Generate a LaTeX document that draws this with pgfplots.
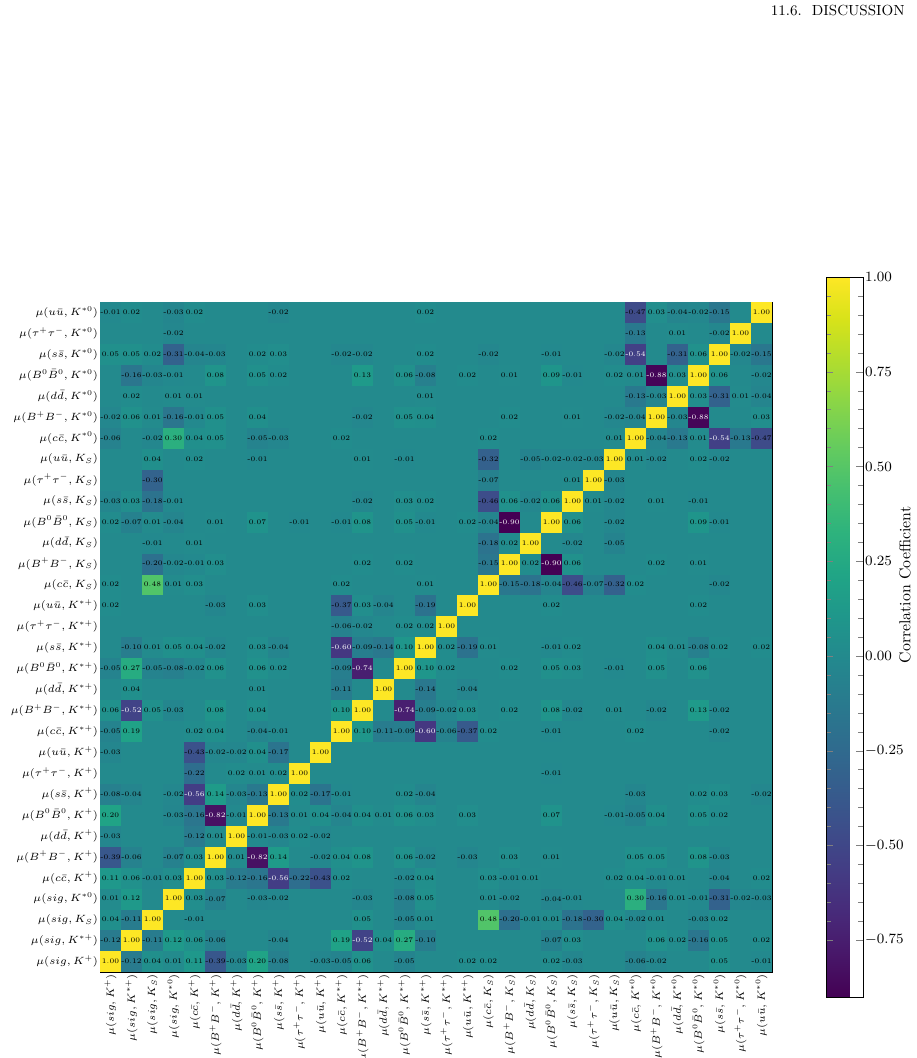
\RequirePackage{fix-cm}
\documentclass[border=0pt]{standalone}
\usepackage{pgfplots}
\usepackage{pgfplotstable}
\pgfplotsset{compat=1.18}
\usetikzlibrary{calc}

\pgfplotstableread{
r c0 c1 c2 c3 c4 c5 c6 c7 c8 c9 c10 c11 c12 c13 c14 c15 c16 c17 c18 c19 c20 c21 c22 c23 c24 c25 c26 c27 c28 c29 c30 c31
0 1.00 -0.12 0.04 0.01 0.11 -0.39 -0.03 0.20 -0.08 0 -0.03 -0.05 0.06 0 -0.05 0 0 0.02 0.02 0 0 0.02 -0.03 0 0 -0.06 -0.02 0 0 0.05 0 -0.01
1 -0.12 1.00 -0.11 0.12 0.06 -0.06 0 0 -0.04 0 0 0.19 -0.52 0.04 0.27 -0.10 0 0 0 0 0 -0.07 0.03 0 0 0 0.06 0.02 -0.16 0.05 0 0.02
2 0.04 -0.11 1.00 0 -0.01 0 0 0 0 0 0 0 0.05 0 -0.05 0.01 0 0 0.48 -0.20 -0.01 0.01 -0.18 -0.30 0.04 -0.02 0.01 0 -0.03 0.02 0 0
3 0.01 0.12 0 1.00 0.03 -0.07 0 -0.03 -0.02 0 0 0 -0.03 0 -0.08 0.05 0 0 0.01 -0.02 0 -0.04 -0.01 0 0 0.30 -0.16 0.01 -0.01 -0.31 -0.02 -0.03
4 0.11 0.06 -0.01 0.03 1.00 0.03 -0.12 -0.16 -0.56 -0.22 -0.43 0.02 0 0 -0.02 0.04 0 0 0.03 -0.01 0.01 0 0 0 0.02 0.04 -0.01 0.01 0 -0.04 0 0.02
5 -0.39 -0.06 0 -0.07 0.03 1.00 0.01 -0.82 0.14 0 -0.02 0.04 0.08 0 0.06 -0.02 0 -0.03 0 0.03 0 0.01 0 0 0 0.05 0.05 0 0.08 -0.03 0 0
6 -0.03 0 0 0 -0.12 0.01 1.00 -0.01 -0.03 0.02 -0.02 0 0 0 0 0 0 0 0 0 0 0 0 0 0 0 0 0 0 0 0 0
7 0.20 0 0 -0.03 -0.16 -0.82 -0.01 1.00 -0.13 0.01 0.04 -0.04 0.04 0.01 0.06 0.03 0 0.03 0 0 0 0.07 0 0 -0.01 -0.05 0.04 0 0.05 0.02 0 0
8 -0.08 -0.04 0 -0.02 -0.56 0.14 -0.03 -0.13 1.00 0.02 -0.17 -0.01 0 0 0.02 -0.04 0 0 0 0 0 0 0 0 0 -0.03 0 0 0.02 0.03 0 -0.02
9 0 0 0 0 -0.22 0 0.02 0.01 0.02 1.00 0 0 0 0 0 0 0 0 0 0 0 -0.01 0 0 0 0 0 0 0 0 0 0
10 -0.03 0 0 0 -0.43 -0.02 -0.02 0.04 -0.17 0 1.00 0 0 0 0 0 0 0 0 0 0 0 0 0 0 0 0 0 0 0 0 0
11 -0.05 0.19 0 0 0.02 0.04 0 -0.04 -0.01 0 0 1.00 0.10 -0.11 -0.09 -0.60 -0.06 -0.37 0.02 0 0 -0.01 0 0 0 0.02 0 0 0 -0.02 0 0
12 0.06 -0.52 0.05 -0.03 0 0.08 0 0.04 0 0 0 0.10 1.00 0 -0.74 -0.09 -0.02 0.03 0 0.02 0 0.08 -0.02 0 0.01 0 -0.02 0 0.13 -0.02 0 0
13 0 0.04 0 0 0 0 0 0.01 0 0 0 -0.11 0 1.00 0 -0.14 0 -0.04 0 0 0 0 0 0 0 0 0 0 0 0 0 0
14 -0.05 0.27 -0.05 -0.08 -0.02 0.06 0 0.06 0.02 0 0 -0.09 -0.74 0 1.00 0.10 0.02 0 0 0.02 0 0.05 0.03 0 -0.01 0 0.05 0 0.06 0 0 0
15 0 -0.10 0.01 0.05 0.04 -0.02 0 0.03 -0.04 0 0 -0.60 -0.09 -0.14 0.10 1.00 0.02 -0.19 0.01 0 0 -0.01 0.02 0 0 0 0.04 0.01 -0.08 0.02 0 0.02
16 0 0 0 0 0 0 0 0 0 0 0 -0.06 -0.02 0 0.02 0.02 1.00 0 0 0 0 0 0 0 0 0 0 0 0 0 0 0
17 0.02 0 0 0 0 -0.03 0 0.03 0 0 0 -0.37 0.03 -0.04 0 -0.19 0 1.00 0 0 0 0.02 0 0 0 0 0 0 0.02 0 0 0
18 0.02 0 0.48 0.01 0.03 0 0 0 0 0 0 0.02 0 0 0 0.01 0 0 1.00 -0.15 -0.18 -0.04 -0.46 -0.07 -0.32 0.02 0 0 0 -0.02 0 0
19 0 0 -0.20 -0.02 -0.01 0.03 0 0 0 0 0 0 0.02 0 0.02 0 0 0 -0.15 1.00 0.02 -0.90 0.06 0 0 0 0.02 0 0.01 0 0 0
20 0 0 -0.01 0 0.01 0 0 0 0 0 0 0 0 0 0 0 0 0 -0.18 0.02 1.00 0 -0.02 0 -0.05 0 0 0 0 0 0 0
21 0.02 -0.07 0.01 -0.04 0 0.01 0 0.07 0 -0.01 0 -0.01 0.08 0 0.05 -0.01 0 0.02 -0.04 -0.90 0 1.00 0.06 0 -0.02 0 0 0 0.09 -0.01 0 0
22 -0.03 0.03 -0.18 -0.01 0 0 0 0 0 0 0 0 -0.02 0 0.03 0.02 0 0 -0.46 0.06 -0.02 0.06 1.00 0.01 -0.02 0 0.01 0 -0.01 0 0 0
23 0 0 -0.30 0 0 0 0 0 0 0 0 0 0 0 0 0 0 0 -0.07 0 0 0 0.01 1.00 -0.03 0 0 0 0 0 0 0
24 0 0 0.04 0 0.02 0 0 -0.01 0 0 0 0 0.01 0 -0.01 0 0 0 -0.32 0 -0.05 -0.02 -0.02 -0.03 1.00 0.01 -0.02 0 0.02 -0.02 0 0
25 -0.06 0 -0.02 0.30 0.04 0.05 0 -0.05 -0.03 0 0 0.02 0 0 0 0 0 0 0.02 0 0 0 0 0 0.01 1.00 -0.04 -0.13 0.01 -0.54 -0.13 -0.47
26 -0.02 0.06 0.01 -0.16 -0.01 0.05 0 0.04 0 0 0 0 -0.02 0 0.05 0.04 0 0 0 0.02 0 0 0.01 0 -0.02 -0.04 1.00 -0.03 -0.88 0 0 0.03
27 0 0.02 0 0.01 0.01 0 0 0 0 0 0 0 0 0 0 0.01 0 0 0 0 0 0 0 0 0 -0.13 -0.03 1.00 0.03 -0.31 0.01 -0.04
28 0 -0.16 -0.03 -0.01 0 0.08 0 0.05 0.02 0 0 0 0.13 0 0.06 -0.08 0 0.02 0 0.01 0 0.09 -0.01 0 0.02 0.01 -0.88 0.03 1.00 0.06 0 -0.02
29 0.05 0.05 0.02 -0.31 -0.04 -0.03 0 0.02 0.03 0 0 -0.02 -0.02 0 0 0.02 0 0 -0.02 0 0 -0.01 0 0 -0.02 -0.54 0 -0.31 0.06 1.00 -0.02 -0.15
30 0 0 0 -0.02 0 0 0 0 0 0 0 0 0 0 0 0 0 0 0 0 0 0 0 0 0 -0.13 0 0.01 0 -0.02 1.00 0
31 -0.01 0.02 0 -0.03 0.02 0 0 0 -0.02 0 0 0 0 0 0 0.02 0 0 0 0 0 0 0 0 0 -0.47 0.03 -0.04 -0.02 -0.15 0 1.00
}\corr

\newcommand{\celltext}[1]{\ifdim#1pt=0pt\relax\else\ifdim#1pt<-0.5pt\relax\color{white}\fi#1\fi}

\begin{document}
\begin{tikzpicture}
\useasboundingbox (0,0) rectangle (549.6pt,634.8pt);
\node[anchor=north east, inner sep=0pt, font=\fontsize{8.8}{10}\selectfont] at (543pt,632pt) {11.6.\ \ DISCUSSION};
\node[rotate=90, inner sep=0pt, font=\fontsize{9.5}{11}\selectfont] at (543pt,283.8pt) {Correlation Coefficient};
\begin{axis}[
  at={(60pt,51.6pt)}, anchor=south west,
  scale only axis, width=403.2pt, height=402pt,
  xmin=-0.5, xmax=31.5, ymin=-0.5, ymax=31.5,
  axis on top,
  xtick={0,...,31}, ytick={0,...,31},
  tick align=inside,
  major tick length=3pt,
  ticklabel style={font=\fontsize{6.3}{7.5}\selectfont, inner sep=1pt},
  xticklabel style={rotate=90, anchor=east},
  xticklabels={
   {$\mu(sig, K^{+})$},{$\mu(sig, K^{*+})$},{$\mu(sig, K_S)$},{$\mu(sig, K^{*0})$},
   {$\mu(c\bar{c}, K^{+})$},{$\mu(B^{+}B^{-}, K^{+})$},{$\mu(d\bar{d}, K^{+})$},{$\mu(B^{0}\bar{B}^{0}, K^{+})$},{$\mu(s\bar{s}, K^{+})$},{$\mu(\tau^{+}\tau^{-}, K^{+})$},{$\mu(u\bar{u}, K^{+})$},
   {$\mu(c\bar{c}, K^{*+})$},{$\mu(B^{+}B^{-}, K^{*+})$},{$\mu(d\bar{d}, K^{*+})$},{$\mu(B^{0}\bar{B}^{0}, K^{*+})$},{$\mu(s\bar{s}, K^{*+})$},{$\mu(\tau^{+}\tau^{-}, K^{*+})$},{$\mu(u\bar{u}, K^{*+})$},
   {$\mu(c\bar{c}, K_S)$},{$\mu(B^{+}B^{-}, K_S)$},{$\mu(d\bar{d}, K_S)$},{$\mu(B^{0}\bar{B}^{0}, K_S)$},{$\mu(s\bar{s}, K_S)$},{$\mu(\tau^{+}\tau^{-}, K_S)$},{$\mu(u\bar{u}, K_S)$},
   {$\mu(c\bar{c}, K^{*0})$},{$\mu(B^{+}B^{-}, K^{*0})$},{$\mu(d\bar{d}, K^{*0})$},{$\mu(B^{0}\bar{B}^{0}, K^{*0})$},{$\mu(s\bar{s}, K^{*0})$},{$\mu(\tau^{+}\tau^{-}, K^{*0})$},{$\mu(u\bar{u}, K^{*0})$}},
  yticklabels={
   {$\mu(sig, K^{+})$},{$\mu(sig, K^{*+})$},{$\mu(sig, K_S)$},{$\mu(sig, K^{*0})$},
   {$\mu(c\bar{c}, K^{+})$},{$\mu(B^{+}B^{-}, K^{+})$},{$\mu(d\bar{d}, K^{+})$},{$\mu(B^{0}\bar{B}^{0}, K^{+})$},{$\mu(s\bar{s}, K^{+})$},{$\mu(\tau^{+}\tau^{-}, K^{+})$},{$\mu(u\bar{u}, K^{+})$},
   {$\mu(c\bar{c}, K^{*+})$},{$\mu(B^{+}B^{-}, K^{*+})$},{$\mu(d\bar{d}, K^{*+})$},{$\mu(B^{0}\bar{B}^{0}, K^{*+})$},{$\mu(s\bar{s}, K^{*+})$},{$\mu(\tau^{+}\tau^{-}, K^{*+})$},{$\mu(u\bar{u}, K^{*+})$},
   {$\mu(c\bar{c}, K_S)$},{$\mu(B^{+}B^{-}, K_S)$},{$\mu(d\bar{d}, K_S)$},{$\mu(B^{0}\bar{B}^{0}, K_S)$},{$\mu(s\bar{s}, K_S)$},{$\mu(\tau^{+}\tau^{-}, K_S)$},{$\mu(u\bar{u}, K_S)$},
   {$\mu(c\bar{c}, K^{*0})$},{$\mu(B^{+}B^{-}, K^{*0})$},{$\mu(d\bar{d}, K^{*0})$},{$\mu(B^{0}\bar{B}^{0}, K^{*0})$},{$\mu(s\bar{s}, K^{*0})$},{$\mu(\tau^{+}\tau^{-}, K^{*0})$},{$\mu(u\bar{u}, K^{*0})$}},
  colormap/viridis,
  point meta min=-0.9, point meta max=1.0,
  colorbar,
  colorbar style={
    at={($(parent axis.south east)+(24pt,-15pt)$)}, anchor=south west,
    scale only axis, width=22.2pt, height=432pt,
    ytick={-0.75,-0.5,-0.25,0,0.25,0.5,0.75,1},
    minor y tick num=4,
    tick align=inside,
    yticklabel style={font=\fontsize{8.5}{10}\selectfont, /pgf/number format/.cd, fixed, fixed zerofill, precision=2},
  },
]
\pgfplotsinvokeforeach{0,...,31}{
  \addplot[scatter, only marks, mark=square*, mark size=6.1pt,
    scatter/use mapped color={draw=mapped color, fill=mapped color},
    point meta=explicit]
    table[x expr=#1, y=r, meta=c#1]{\corr};
}
\pgfplotsinvokeforeach{0,...,31}{
  \addplot[draw=none, mark=none,
    point meta=explicit symbolic,
    nodes near coords={\celltext{\pgfplotspointmeta}},
    nodes near coords style={anchor=center, inner sep=0pt, text=black, font=\fontsize{4.2}{5}\selectfont}]
    table[x expr=#1, y=r, meta=c#1]{\corr};
}
\end{axis}
\end{tikzpicture}
\end{document}
